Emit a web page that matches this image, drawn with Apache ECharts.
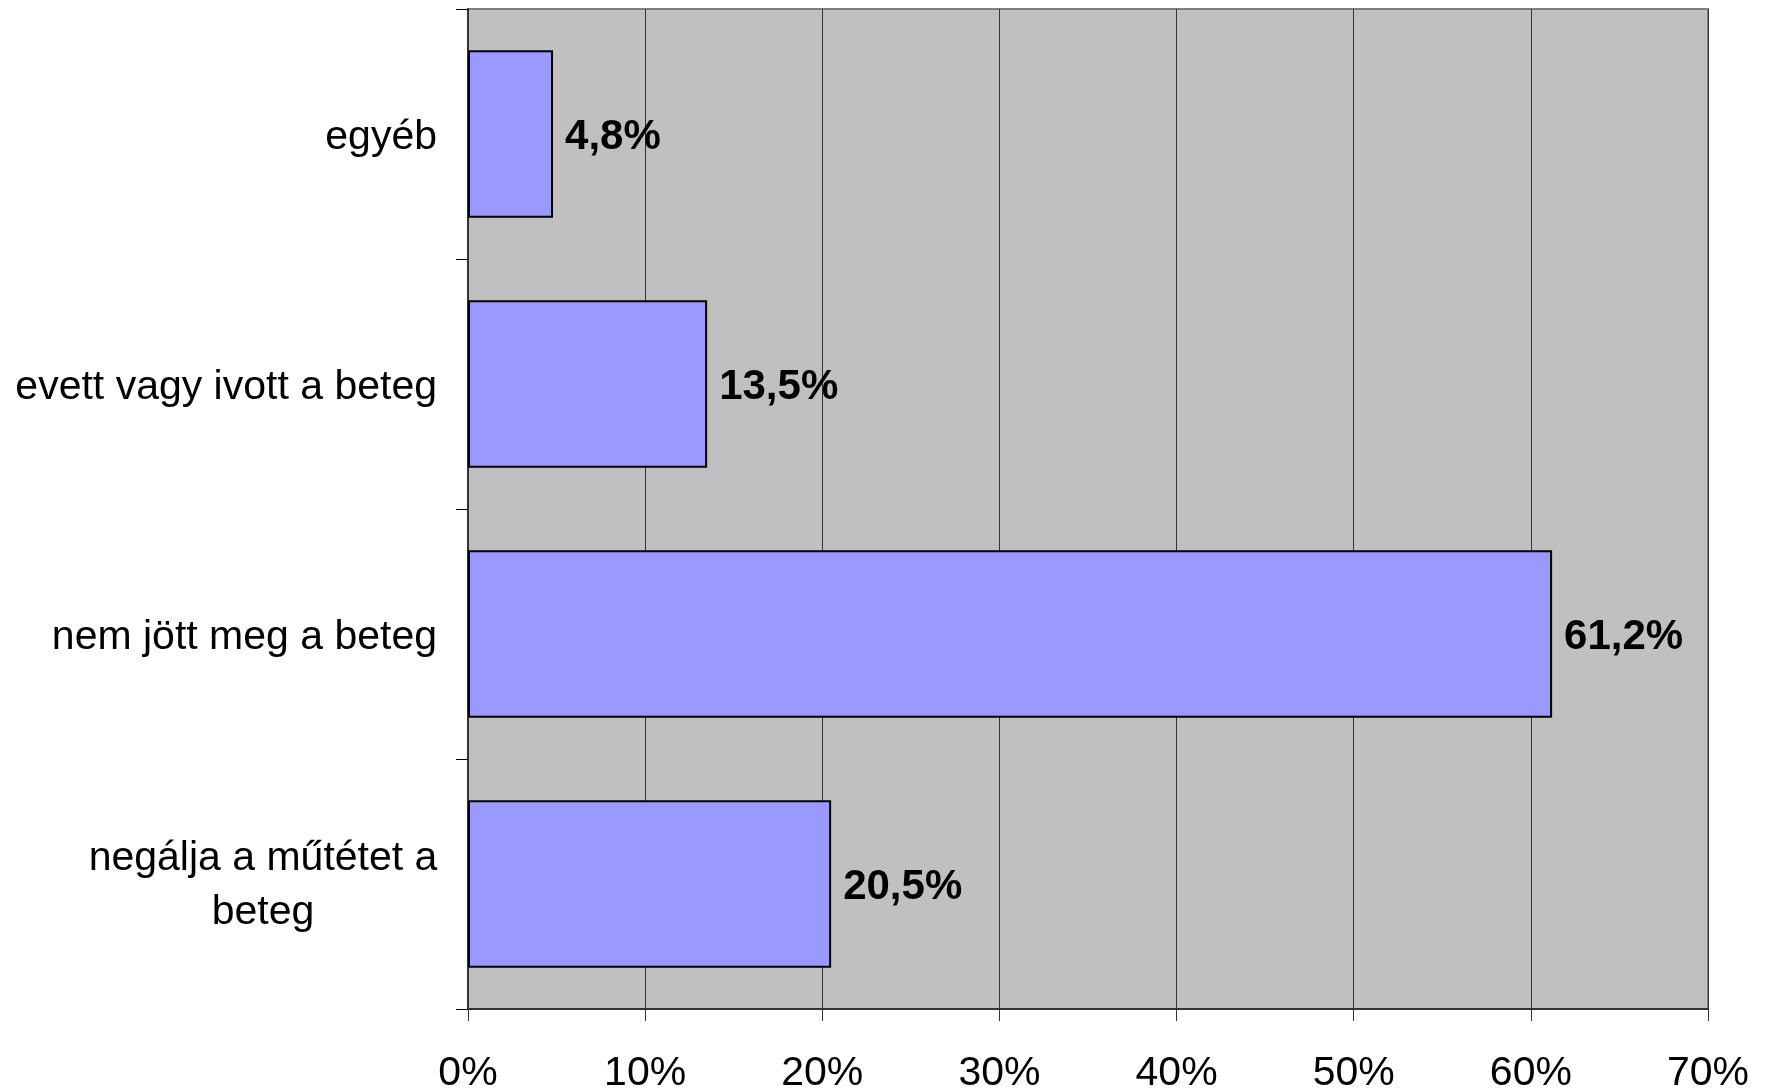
<!DOCTYPE html>
<html>
<head>
<meta charset="utf-8">
<script src="https://cdn.jsdelivr.net/npm/echarts@6/dist/echarts.min.js"></script>
<style>
  html, body { margin: 0; padding: 0; background: #ffffff; }
  #chart { width: 1765px; height: 1091px; }
</style>
</head>
<body>
<div id="chart"></div>
<script>
// Reasons listed top to bottom
const categories = ['egyéb', 'evett vagy ivott a beteg', 'nem jött meg a beteg', 'negálja a műtétet a\nbeteg'];
// Share of cases, percent
const values = [4.8, 13.5, 61.2, 20.5];
// Value axis ticks, percent
const tickValues = [0, 10, 20, 30, 40, 50, 60, 70];

const FONT = "'Liberation Sans', Arial, sans-serif";
const chart = echarts.init(document.getElementById('chart'), null, { renderer: 'canvas' });

chart.setOption({
  animation: false,
  backgroundColor: '#ffffff',
  textStyle: { fontFamily: FONT },
  grid: {
    left: 468, right: 57, top: 9, bottom: 82,
    outerBoundsMode: 'none',
    containLabel: false,
    show: true,
    backgroundColor: '#C0C0C0',
    borderColor: '#808080',
    borderWidth: 2
  },
  xAxis: {
    type: 'value',
    min: tickValues[0],
    max: tickValues[tickValues.length - 1],
    interval: tickValues[1] - tickValues[0],
    axisLine: { show: true, lineStyle: { color: '#333333', width: 2 } },
    axisTick: { show: true, length: 12, lineStyle: { color: '#333333', width: 1 } },
    splitLine: { show: true, lineStyle: { color: '#333333', width: 1 } },
    axisLabel: {
      margin: 44,
      fontSize: 41,
      color: '#000000',
      fontFamily: FONT,
      formatter: v => v + '%'
    }
  },
  yAxis: {
    type: 'category',
    inverse: true,
    data: categories,
    axisLine: { show: true, lineStyle: { color: '#333333', width: 2 } },
    axisTick: { show: true, length: 12, lineStyle: { color: '#000000', width: 1 } },
    axisLabel: {
      margin: 31,
      fontSize: 41,
      color: '#000000',
      fontFamily: FONT,
      lineHeight: 54,
      formatter: function (v) {
        if (v.indexOf('\n') < 0) return '{s|' + v + '}';
        return v.split('\n').map(s => '{c|' + s + '}').join('\n');
      },
      rich: {
        s: { fontSize: 41, lineHeight: 54, color: '#000000', fontFamily: FONT, padding: [8, 0, 0, 0] },
        c: { width: 348, align: 'center', fontSize: 41, lineHeight: 54, color: '#000000', fontFamily: FONT, padding: [3, 0, 0, 0] }
      }
    }
  },
  series: [{
    type: 'bar',
    data: values,
    barWidth: '67%',
    itemStyle: { color: '#9999FF', borderColor: '#000000', borderWidth: 2 },
    label: {
      show: true,
      position: 'right',
      distance: 12,
      offset: [0, 3],
      fontSize: 42,
      fontWeight: 'bold',
      color: '#000000',
      fontFamily: FONT,
      formatter: p => p.value.toFixed(1).replace('.', ',') + '%'
    }
  }]
});
</script>
</body>
</html>
